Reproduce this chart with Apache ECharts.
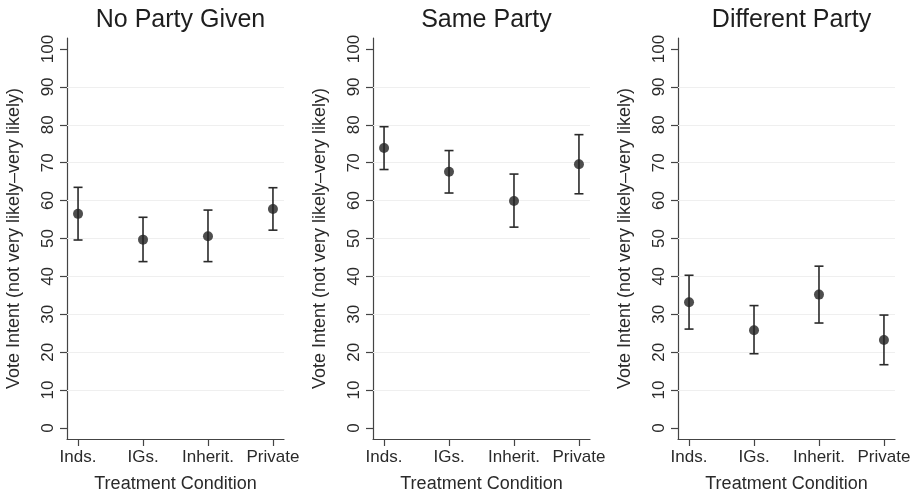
<!DOCTYPE html>
<html>
<head>
<meta charset="utf-8">
<script src="https://cdn.jsdelivr.net/npm/echarts@6/dist/echarts.min.js"></script>
<style>
  html, body { margin: 0; padding: 0; background: #fff; }
  #chart { width: 919px; height: 498px; }
</style>
</head>
<body>
<div id="chart"></div>
<script>
// data
const categories = ["Inds.", "IGs.", "Inherit.", "Private"];
const panelTitles = ["No Party Given", "Same Party", "Different Party"];
const means = [
  [56.5, 49.7, 50.6, 57.8],
  [73.9, 67.6, 59.9, 69.6],
  [33.2, 25.8, 35.2, 23.2]
];
const lower = [
  [49.6, 43.9, 43.9, 52.2],
  [68.2, 62.0, 53.0, 61.8],
  [26.1, 19.6, 27.7, 16.7]
];
const upper = [
  [63.5, 55.6, 57.5, 63.4],
  [79.5, 73.2, 67.0, 77.4],
  [40.3, 32.3, 42.7, 29.8]
];
const yTicks = [0, 10, 20, 30, 40, 50, 60, 70, 80, 90, 100];
const gridValues = [10, 20, 30, 40, 50, 60, 70, 80, 90];
const xPositions = [1, 2, 3, 4];

const FONT = "Liberation Sans, Arial, sans-serif";
const INK = "#2a2a2a";

// panel layout in pixels
const panelLeft = [67, 373, 678];
const panelWidth = 217;
const plotTop = 38;
const plotHeight = 402;

const chart = echarts.init(document.getElementById("chart"));

const grids = [], xAxes = [], yAxes = [], titles = [], series = [];

panelTitles.forEach((name, p) => {
  grids.push({ left: panelLeft[p], top: plotTop, width: panelWidth, height: plotHeight });
  titles.push({
    text: name,
    left: panelLeft[p] + panelWidth / 2,
    textAlign: "center",
    top: 3,
    textStyle: { fontFamily: FONT, fontSize: 25, fontWeight: "normal", color: "#1e1e1e" }
  });
  xAxes.push({
    type: "value",
    gridIndex: p,
    min: 0.83,
    max: 4.17,
    name: "Treatment Condition",
    nameLocation: "middle",
    nameGap: 36,
    nameTextStyle: { fontFamily: FONT, fontSize: 18, color: INK },
    axisLine: { show: true, onZero: false, lineStyle: { color: "#444", width: 1.2 } },
    axisTick: { show: true, length: 7, customValues: xPositions, lineStyle: { color: "#444", width: 1.2 } },
    axisLabel: {
      customValues: xPositions,
      formatter: v => categories[Math.round(v) - 1] || "",
      fontFamily: FONT, fontSize: 17, color: INK, margin: 10
    },
    splitLine: { show: false }
  });
  yAxes.push({
    type: "value",
    gridIndex: p,
    min: -2.9,
    max: 102.9,
    name: "Vote Intent (not very likely\u2013very likely)",
    nameLocation: "middle",
    nameRotate: 90,
    nameGap: 44,
    nameTextStyle: { fontFamily: FONT, fontSize: 18, color: INK },
    axisLine: { show: true, onZero: false, lineStyle: { color: "#444", width: 1.2 } },
    axisTick: { show: true, length: 7, customValues: yTicks, lineStyle: { color: "#444", width: 1.2 } },
    axisLabel: {
      customValues: yTicks,
      rotate: 90,
      fontFamily: FONT, fontSize: 17, color: INK, margin: 10
    },
    splitLine: { show: false }
  });

  // error bars with caps
  series.push({
    type: "custom",
    xAxisIndex: p,
    yAxisIndex: p,
    silent: true,
    z: 3,
    data: xPositions.map((x, i) => [x, lower[p][i], upper[p][i]]),
    renderItem: (params, api) => {
      const lo = api.coord([api.value(0), api.value(1)]);
      const hi = api.coord([api.value(0), api.value(2)]);
      const cap = 4.5;
      const style = { stroke: INK, lineWidth: 1.6 };
      return {
        type: "group",
        children: [
          { type: "line", shape: { x1: lo[0], y1: lo[1], x2: hi[0], y2: hi[1] }, style },
          { type: "line", shape: { x1: lo[0] - cap, y1: lo[1], x2: lo[0] + cap, y2: lo[1] }, style },
          { type: "line", shape: { x1: hi[0] - cap, y1: hi[1], x2: hi[0] + cap, y2: hi[1] }, style }
        ]
      };
    }
  });

  // point estimates + light gridlines
  series.push({
    type: "scatter",
    xAxisIndex: p,
    yAxisIndex: p,
    silent: true,
    z: 4,
    symbol: "circle",
    symbolSize: 10,
    itemStyle: { color: "#222" },
    data: xPositions.map((x, i) => [x, means[p][i]]),
    markLine: {
      silent: true,
      symbol: "none",
      label: { show: false },
      z: 1,
      lineStyle: { color: "#efefef", type: "solid", width: 1.2 },
      data: gridValues.map(v => ({ yAxis: v }))
    }
  });
});

chart.setOption({
  backgroundColor: "#fff",
  animation: false,
  title: titles,
  grid: grids,
  xAxis: xAxes,
  yAxis: yAxes,
  series: series
});
</script>
</body>
</html>
